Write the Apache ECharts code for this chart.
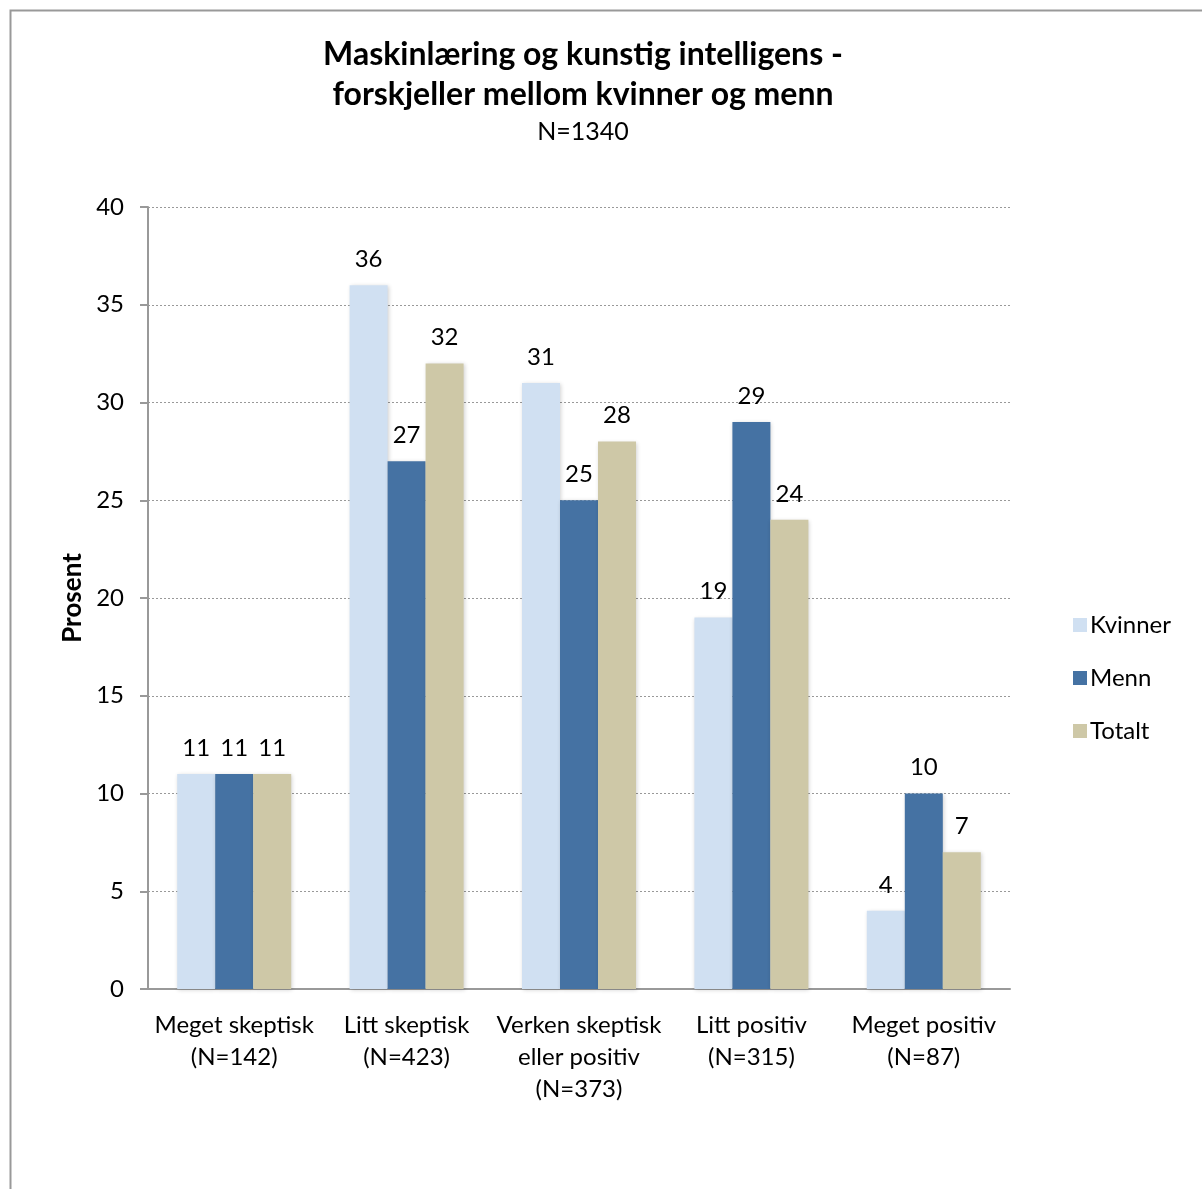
<!DOCTYPE html>
<html><head><meta charset="utf-8">
<script src="https://cdn.jsdelivr.net/npm/echarts@6/dist/echarts.min.js"></script>
<style>html,body{margin:0;padding:0;background:#fff}#c{width:1202px;height:1189px}</style>
</head><body><div id="c"></div>
<script>
const categories = ['Meget skeptisk\n(N=142)', 'Litt skeptisk\n(N=423)', 'Verken skeptisk\neller positiv\n(N=373)', 'Litt positiv\n(N=315)', 'Meget positiv\n(N=87)'];
const kvinner = [11, 36, 31, 19, 4];
const menn = [11, 27, 25, 29, 10];
const totalt = [11, 32, 28, 24, 7];
const seriesNames = ['Kvinner', 'Menn', 'Totalt'];
const colors = ['#d0e0f2', '#4572a3', '#cec8a7'];
const FONT = 'Lato, "Open Sans", sans-serif';

const chart = echarts.init(document.getElementById('c'));
const mk = (name, data, color) => ({
  name, type: 'bar', data, barWidth: 38, barGap: '0%',
  itemStyle: { color, shadowColor: 'rgba(0,0,0,0.18)', shadowBlur: 4, shadowOffsetX: 1, shadowOffsetY: 1 },
  label: { show: true, position: 'top', distance: 14, color: '#000', fontSize: 24, fontFamily: FONT }
});
chart.setOption({
  animation: false,
  graphic: [{ type: 'rect', left: 8, top: 8, shape: { width: 1210, height: 1200 }, style: { fill: 'none', stroke: '#999', lineWidth: 2 }, silent: true }],
  title: {
    text: 'Maskinlæring og kunstig intelligens -\nforskjeller mellom kvinner og menn',
    subtext: 'N=1340', left: 578, top: 30, textAlign: 'center',
    textStyle: { fontFamily: FONT, fontSize: 32, fontWeight: 'bold', color: '#000', lineHeight: 40 },
    subtextStyle: { fontFamily: FONT, fontSize: 25, color: '#000' }, itemGap: 4
  },
  legend: {
    orient: 'vertical', left: 1068, top: 608, itemWidth: 14, itemHeight: 14, itemGap: 29,
    data: seriesNames, textStyle: { fontFamily: FONT, fontSize: 24, color: '#000', padding: [0, 0, 0, -2] }, icon: 'rect'
  },
  grid: { left: 148, right: 192, top: 207, bottom: 200, containLabel: false },
  xAxis: {
    type: 'category', data: categories,
    axisLine: { lineStyle: { color: '#999', width: 2 } },
    axisTick: { show: false },
    axisLabel: { fontFamily: FONT, fontSize: 24, color: '#000', lineHeight: 32, margin: 20, interval: 0 }
  },
  yAxis: {
    type: 'value', min: 0, max: 40, interval: 5,
    name: 'Prosent', nameLocation: 'middle', nameGap: 62, nameRotate: 90,
    nameTextStyle: { fontFamily: FONT, fontSize: 26, fontWeight: 'bold', color: '#000' },
    axisLine: { show: true, lineStyle: { color: '#999', width: 2 } },
    axisTick: { show: true, inside: false, length: 8, lineStyle: { color: '#999', width: 2 } },
    axisLabel: { fontFamily: FONT, fontSize: 24, color: '#000', margin: 24 },
    splitLine: { lineStyle: { color: '#999', type: [2, 2], width: 1 } }
  },
  series: [mk(seriesNames[0], kvinner, colors[0]), mk(seriesNames[1], menn, colors[1]), mk(seriesNames[2], totalt, colors[2])]
});
</script></body></html>
